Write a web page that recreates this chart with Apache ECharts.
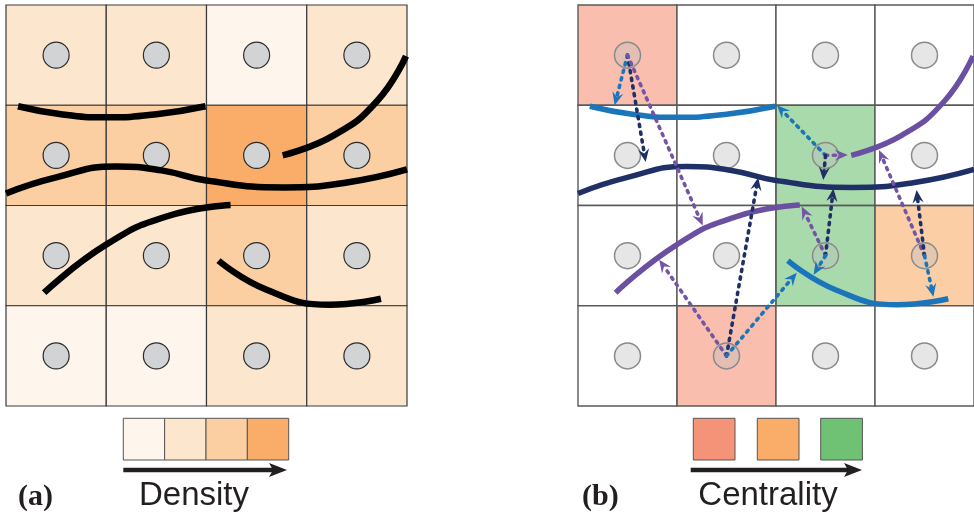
<!DOCTYPE html>
<html>
<head>
<meta charset="utf-8">
<script src="https://cdn.jsdelivr.net/npm/echarts@6/dist/echarts.min.js"></script>
<style>
  html, body { margin: 0; padding: 0; background: #ffffff; }
  #chart { width: 974px; height: 521px; }
</style>
</head>
<body>
<div id="chart"></div>
<script>
// ---- grid cells (row-major, row 0 at top) ----
const densityLevels = [
  [1, 1, 0, 1],
  [2, 2, 3, 2],
  [1, 1, 2, 1],
  [0, 0, 1, 1]
];
const densityColors = ['#FEF6ED', '#FDE6CE', '#FBCFA2', '#F9AD69'];

// [col, row, level] for highlighted cells in panel (b)
const centralityCells = [[0, 0, 0], [1, 3, 0], [3, 2, 1], [2, 1, 2], [2, 2, 2]];
const centralityColors = ['#F59378', '#F9AD69', '#6FC274'];

// ---- streamlines, in cell units ----
const streamA = [[0.12, 1.01], [0.55, 1.09], [1.0, 1.12], [1.5, 1.09], [1.99, 1.01]];
const streamB = [[0.0, 1.88], [0.5, 1.72], [1.1, 1.61], [1.55, 1.65], [2.0, 1.75], [2.77, 1.82], [3.4, 1.77], [4.0, 1.64]];
const streamC = [[2.76, 1.50], [3.27, 1.30], [3.70, 0.96], [3.99, 0.51]];
const streamD = [[0.38, 2.87], [1.0, 2.39], [1.60, 2.11], [2.24, 1.995]];
const streamE = [[2.12, 2.55], [2.60, 2.84], [3.23, 2.99], [3.74, 2.93]];

// ---- directed links from seed points to streamlines: [x0, y0, x1, y1, colourKey] ----
const linkBlue = 0, linkNavy = 1, linkPurple = 2;
const links = [
  [0.5, 0.5, 0.37, 1.0, linkBlue],
  [0.5, 0.5, 0.684, 1.565, linkNavy],
  [0.5, 0.5, 1.26, 2.2, linkPurple],
  [1.5, 3.5, 0.82, 2.54, linkPurple],
  [1.5, 3.5, 1.82, 1.72, linkNavy],
  [1.5, 3.5, 2.21, 2.67, linkBlue],
  [2.5, 1.5, 2.01, 1.0, linkBlue],
  [2.5, 1.5, 2.726, 1.496, linkPurple],
  [2.5, 1.5, 2.477, 1.746, linkNavy],
  [2.5, 2.5, 2.26, 2.01, linkPurple],
  [2.5, 2.5, 2.58, 1.83, linkNavy],
  [2.5, 2.5, 2.38, 2.69, linkBlue],
  [3.5, 2.5, 3.04, 1.446, linkPurple],
  [3.5, 2.5, 3.42, 1.845, linkNavy],
  [3.5, 2.5, 3.59, 2.91, linkBlue]
];
const linkColors = ['#1B75BB', '#1F3067', '#7255A5'];

const streamBlue = '#1B75BB', streamNavy = '#1F3067', streamPurple = '#6B4FA0';

const legendText = ['Density', 'Centrality'];
const panelText = ['(a)', '(b)'];

// ---- derived tables ----
const N = 4;
const seeds = [];
for (let r = 0; r < N; r++) for (let c = 0; c < N; c++) seeds.push([c + 0.5, r + 0.5]);

const densityData = [];
densityLevels.forEach((row, r) => row.forEach((lv, c) => densityData.push([c, r, lv])));

const plainCells = [];
for (let r = 0; r < N; r++) for (let c = 0; c < N; c++) {
  const hit = centralityCells.find(d => d[0] === c && d[1] === r);
  plainCells.push([c, r, hit ? hit[2] : -1]);
}

function cellRenderer(fillFor, stroke, lw) {
  return function (params, api) {
    const p = api.coord([api.value(0), api.value(1)]);
    const s = api.size([1, 1]);
    return {
      type: 'rect',
      shape: { x: p[0], y: p[1], width: s[0], height: s[1] },
      style: { fill: fillFor(api.value(2)), stroke: stroke, lineWidth: lw }
    };
  };
}

function linkRenderer(params, api) {
  const a = api.coord([api.value(0), api.value(1)]);
  const b = api.coord([api.value(2), api.value(3)]);
  const col = linkColors[api.value(4)];
  const dx = b[0] - a[0], dy = b[1] - a[1];
  const len = Math.sqrt(dx * dx + dy * dy);
  const ux = dx / len, uy = dy / len, nx = -uy, ny = ux;
  const L = 13, W = 5.6, notch = 8.5;
  const back = [b[0] - ux * L, b[1] - uy * L];
  const mid = [b[0] - ux * notch, b[1] - uy * notch];
  return {
    type: 'group',
    children: [
      {
        type: 'line',
        shape: { x1: a[0], y1: a[1], x2: mid[0], y2: mid[1] },
        style: { stroke: col, lineWidth: 3.6, lineDash: [2.2, 5.6], lineCap: 'round' }
      },
      {
        type: 'polygon',
        shape: { points: [b, [back[0] + nx * W, back[1] + ny * W], mid, [back[0] - nx * W, back[1] - ny * W]] },
        style: { fill: col }
      }
    ]
  };
}

function stream(gridIdx, data, color, width) {
  return {
    type: 'line', xAxisIndex: gridIdx, yAxisIndex: gridIdx,
    data: data, smooth: 0.5, showSymbol: false, symbol: 'none',
    lineStyle: { color: color, width: width, cap: 'butt' },
    silent: true, animation: false, z: 4
  };
}

const chart = echarts.init(document.getElementById('chart'), null, { renderer: 'canvas' });

const axisBase = { type: 'value', min: 0, max: N, show: false };

// legend geometry
const densW = 41.35;
const legendGraphics = [];
densityColors.forEach((c, i) => legendGraphics.push({
  type: 'rect', shape: { x: 123.3 + i * densW, y: 418.3, width: densW, height: 41.7 },
  style: { fill: c, stroke: '#555', lineWidth: 1 }
}));
centralityColors.forEach((c, i) => legendGraphics.push({
  type: 'rect', shape: { x: [693.3, 757.3, 820.7][i], y: 418.3, width: 41.7, height: 41.7 },
  style: { fill: c, stroke: '#555', lineWidth: 1 }
}));
function legendArrow(x0, x1) {
  legendGraphics.push({
    type: 'line', shape: { x1: x0, y1: 470, x2: x1 - 14, y2: 470 },
    style: { stroke: '#231F20', lineWidth: 4.5 }
  });
  legendGraphics.push({
    type: 'polygon', shape: { points: [[x1, 470], [x1 - 18, 463], [x1 - 14, 470], [x1 - 18, 477]] },
    style: { fill: '#231F20' }
  });
}
legendArrow(123.3, 287);
legendArrow(690.7, 862);
legendGraphics.push({
  type: 'text', x: 194, y: 496,
  style: { text: legendText[0], font: '33px "Liberation Sans", Arial, sans-serif', fill: '#231F20', align: 'center', verticalAlign: 'middle' }
});
legendGraphics.push({
  type: 'text', x: 768, y: 496,
  style: { text: legendText[1], font: '33px "Liberation Sans", Arial, sans-serif', fill: '#231F20', align: 'center', verticalAlign: 'middle' }
});
legendGraphics.push({
  type: 'text', x: 18, y: 497,
  style: { text: panelText[0], font: 'bold 30px "Liberation Serif", "DejaVu Serif", serif', fill: '#231F20', align: 'left', verticalAlign: 'middle' }
});
legendGraphics.push({
  type: 'text', x: 582, y: 497,
  style: { text: panelText[1], font: 'bold 30px "Liberation Serif", "DejaVu Serif", serif', fill: '#231F20', align: 'left', verticalAlign: 'middle' }
});

chart.setOption({
  animation: false,
  backgroundColor: '#ffffff',
  grid: [
    { left: 6, top: 5, width: 401, height: 401 },
    { left: 578, top: 5, width: 401.5, height: 401 }
  ],
  xAxis: [Object.assign({ gridIndex: 0 }, axisBase), Object.assign({ gridIndex: 1 }, axisBase)],
  yAxis: [Object.assign({ gridIndex: 0, inverse: true }, axisBase), Object.assign({ gridIndex: 1, inverse: true }, axisBase)],
  graphic: legendGraphics,
  series: [
    {
      type: 'custom', xAxisIndex: 0, yAxisIndex: 0, data: densityData, z: 1,
      encode: { x: 0, y: 1 },
      renderItem: cellRenderer(lv => densityColors[lv], '#3A3A3A', 1.2)
    },
    {
      type: 'custom', xAxisIndex: 1, yAxisIndex: 1, data: plainCells, z: 1,
      encode: { x: 0, y: 1 },
      renderItem: cellRenderer(lv => lv < 0 ? '#ffffff' : echarts.color.modifyAlpha(centralityColors[lv], 0.6), '#5A5A5A', 1.4)
    },
    {
      type: 'scatter', xAxisIndex: 0, yAxisIndex: 0, data: seeds, symbolSize: 26, z: 2,
      itemStyle: { color: '#D1D3D4', borderColor: '#2B2B2B', borderWidth: 1.2, opacity: 1 }
    },
    {
      type: 'scatter', xAxisIndex: 1, yAxisIndex: 1, data: seeds, symbolSize: 26, z: 2,
      itemStyle: { color: 'rgba(190,190,190,0.38)', borderColor: '#8A8A8A', borderWidth: 1.5, opacity: 1 }
    },
    stream(0, streamA, '#000000', 6.5),
    stream(0, streamB, '#000000', 6.5),
    stream(0, streamC, '#000000', 6.5),
    stream(0, streamD, '#000000', 6.5),
    stream(0, streamE, '#000000', 6.5),
    stream(1, streamA, streamBlue, 5.5),
    stream(1, streamB, streamNavy, 5.5),
    stream(1, streamC, streamPurple, 5.5),
    stream(1, streamD, streamPurple, 5.5),
    stream(1, streamE, streamBlue, 5.5),
    {
      type: 'custom', xAxisIndex: 1, yAxisIndex: 1, data: links, z: 5,
      encode: { x: [0, 2], y: [1, 3] },
      renderItem: linkRenderer
    }
  ]
});
</script>
</body>
</html>
